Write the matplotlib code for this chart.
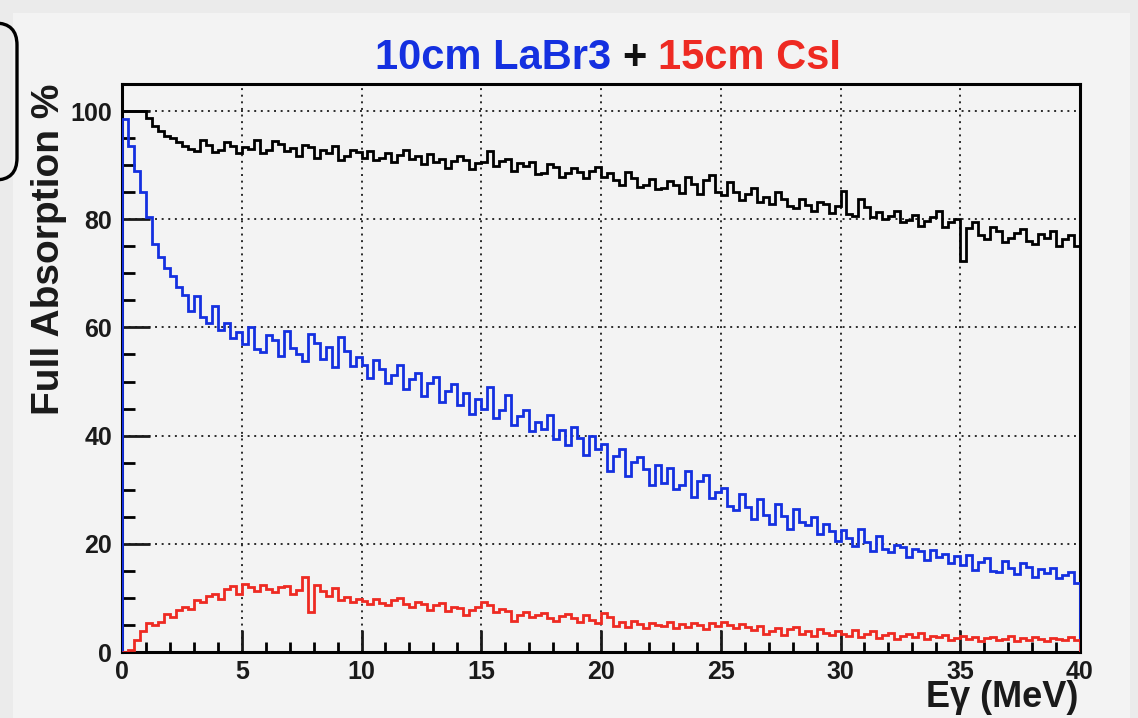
import numpy as np
import matplotlib
matplotlib.use('Agg')
import matplotlib.pyplot as plt
from matplotlib.ticker import MultipleLocator
from matplotlib.patches import Rectangle, FancyBboxPatch
from matplotlib.transforms import IdentityTransform

plt.rcParams['font.family'] = ['Liberation Sans', 'DejaVu Sans']
plt.rcParams['font.weight'] = 'bold'

# full absorption (%) per 0.25 MeV bin, 0 - 40 MeV
total = [
    100, 100, 100, 100, 98.8, 97.2, 96.4, 95.4, 95.0, 94.2, 93.6, 93.0, 92.6, 94.6, 93.8, 92.4, 92.8, 94.2, 93.6, 92.2,
    93.4, 93.0, 94.6, 92.2, 92.8, 94.4, 94.0, 92.6, 93.2, 91.6, 93.8, 93.4, 91.4, 92.8, 92.2, 93.6, 91.0, 91.6, 92.8, 92.4,
    91.4, 92.6, 91.0, 91.4, 92.2, 90.6, 91.8, 92.8, 91.2, 91.6, 90.2, 92.0, 90.6, 91.2, 89.4, 90.8, 91.6, 91.0, 89.2, 90.4,
    90.6, 92.6, 89.8, 90.8, 91.2, 89.0, 90.4, 89.8, 90.6, 88.4, 88.6, 90.2, 89.6, 87.8, 88.6, 89.4, 88.8, 87.6, 89.0, 89.6,
    87.8, 88.6, 87.2, 86.4, 88.8, 87.6, 86.0, 86.4, 87.4, 85.6, 85.8, 87.0, 86.4, 84.8, 87.8, 86.6, 84.6, 87.2, 88.2, 85.0,
    84.4, 86.8, 85.0, 83.6, 84.6, 85.8, 83.2, 84.2, 82.8, 85.0, 83.8, 82.4, 82.0, 83.8, 82.6, 81.6, 83.2, 82.8, 81.2, 82.4,
    85.2, 81.0, 80.6, 83.8, 82.2, 80.4, 81.4, 80.0, 80.6, 81.6, 79.4, 79.8, 80.8, 78.8, 79.6, 80.4, 81.6, 78.6, 79.4, 80.0,
    72.2, 78.4, 79.4, 77.0, 76.4, 78.6, 77.8, 75.8, 76.6, 77.4, 78.2, 76.0, 75.4, 77.2, 76.6, 77.8, 75.0, 76.4, 77.0, 75.0,
]
labr3 = [
    98.5, 93.5, 89.0, 85.0, 80.5, 75.5, 73.0, 71.0, 69.5, 67.5, 66.0, 63.0, 65.8, 62.0, 60.8, 64.0, 59.6, 60.8, 58.0, 59.2,
    57.0, 60.0, 56.0, 55.4, 58.6, 57.6, 54.8, 59.4, 56.2, 55.0, 53.8, 58.8, 57.2, 54.2, 56.4, 52.6, 58.2, 55.6, 52.8, 54.6,
    53.0, 50.6, 54.0, 52.4, 49.8, 51.2, 53.0, 48.6, 50.4, 51.6, 47.4, 49.8, 50.8, 46.2, 48.2, 49.6, 45.6, 47.8, 44.0, 46.8,
    45.0, 49.0, 43.2, 44.8, 47.6, 42.0, 43.6, 44.8, 40.8, 42.6, 41.2, 43.8, 39.4, 41.0, 38.2, 41.6, 39.6, 36.4, 40.0, 37.6,
    38.4, 33.4, 36.2, 37.6, 32.6, 35.2, 36.0, 33.8, 30.8, 34.6, 31.2, 34.0, 30.2, 30.8, 33.4, 28.6, 31.6, 32.8, 28.4, 29.6,
    30.4, 27.0, 26.2, 29.2, 26.8, 24.6, 28.2, 25.4, 23.6, 27.4, 25.2, 22.8, 26.4, 24.0, 23.4, 25.0, 21.8, 23.6, 22.4, 20.6,
    22.6, 21.0, 19.6, 22.8, 20.4, 18.6, 21.4, 19.0, 18.4, 19.8, 19.4, 17.6, 19.0, 18.6, 17.0, 18.8, 17.6, 18.2, 16.4, 17.8,
    16.0, 18.0, 15.2, 16.6, 17.4, 15.0, 14.8, 16.8, 15.6, 14.4, 16.4, 15.8, 13.8, 15.4, 14.6, 15.6, 13.6, 14.2, 14.8, 12.8,
]
csi = [
    0.0, 0.4, 2.2, 3.8, 5.4, 5.0, 5.6, 7.0, 6.4, 7.8, 8.4, 8.0, 9.6, 9.2, 10.4, 10.8, 9.8, 11.6, 12.2, 10.8,
    12.6, 12.0, 11.2, 12.4, 11.6, 11.0, 12.0, 12.2, 10.8, 11.4, 13.8, 7.4, 12.4, 11.2, 10.4, 11.8, 9.6, 10.2, 9.2, 9.8,
    9.4, 8.8, 9.8, 9.0, 8.6, 9.6, 10.0, 8.8, 8.4, 9.2, 8.8, 7.8, 8.6, 9.0, 7.6, 8.4, 8.2, 6.8, 7.8, 8.4,
    9.2, 8.6, 7.4, 8.0, 7.6, 5.8, 6.8, 7.4, 6.4, 6.8, 7.2, 6.2, 5.8, 6.6, 7.0, 6.2, 5.6, 6.8, 6.0, 5.4,
    7.2, 6.4, 4.8, 5.6, 4.6, 5.8, 5.2, 4.4, 5.4, 5.0, 4.8, 5.6, 4.4, 5.2, 4.6, 5.4, 5.0, 4.2, 5.4, 4.8,
    5.6, 5.0, 4.4, 5.2, 4.6, 4.0, 4.8, 3.4, 3.8, 4.4, 3.2, 4.2, 4.6, 3.4, 3.8, 3.0, 4.2, 3.6, 3.2, 3.8,
    3.4, 3.0, 4.0, 2.8, 3.4, 3.8, 2.6, 3.2, 3.6, 2.4, 3.0, 3.4, 2.8, 3.6, 2.4, 3.0, 2.8, 3.2, 2.2, 2.6,
    3.0, 2.4, 2.8, 2.0, 2.6, 2.8, 2.2, 2.4, 3.0, 2.0, 2.6, 2.2, 2.8, 2.4, 2.0, 2.6, 2.4, 2.2, 2.8, 2.2,
]
assert len(total) == len(labr3) == len(csi) == 160
e_min, e_max = 0, 40
edges = np.linspace(e_min, e_max, len(total) + 1)

W, H = 1138, 718
fig = plt.figure(figsize=(W / 100, H / 100), dpi=100)
fig.patch.set_facecolor('#ebebeb')
fig.add_artist(Rectangle((13, 0), 1117, H - 13, transform=IdentityTransform(),
                         facecolor='#f3f3f3', edgecolor='none', zorder=-5))
fig.add_artist(FancyBboxPatch((-40, 538), 57, 157, boxstyle='round,pad=0,rounding_size=22',
                              transform=IdentityTransform(), facecolor='none',
                              edgecolor='black', linewidth=2.4, clip_on=False))

ax = fig.add_axes([122 / W, 1 - 652 / H, 958 / W, 568 / H])
ax.set_facecolor('#f3f3f3')

ax.stairs(total, edges, color='black', linewidth=2.0, zorder=3)
ax.stairs(labr3, edges, color='#1430e0', linewidth=2.0, zorder=3)
ax.stairs(csi, edges, color='#ee2a22', linewidth=2.0, zorder=3)

ax.set_xlim(e_min, e_max)
ax.set_ylim(0, 105)
ax.set_xticks(range(0, 41, 5))
ax.set_yticks(range(0, 101, 20))
ax.xaxis.set_minor_locator(MultipleLocator(1))
ax.yaxis.set_minor_locator(MultipleLocator(5))
ax.tick_params(axis='x', which='major', direction='in', length=16, width=2, labelsize=18, pad=6,
               colors='#1a1a1a')
ax.tick_params(axis='x', which='minor', direction='in', length=7, width=2)
ax.tick_params(axis='y', which='major', direction='in', length=20, width=2, labelsize=18, pad=7,
               colors='#1a1a1a')
ax.tick_params(axis='y', which='minor', direction='in', length=9.5, width=2)
for s in ax.spines.values():
    s.set_linewidth(2.2)
ax.grid(True, which='major', color='#2a2a2a', linestyle=(0, (1, 2.4)), linewidth=1.4)
ax.set_axisbelow(True)

ax.set_ylabel('Full Absorption %', fontsize=28, fontweight='bold', loc='top', color='#1a1a1a')
ax.yaxis.set_label_coords(-0.057, 1.0)
ax.set_xlabel('Eγ (MeV)', fontsize=26, fontweight='bold', loc='right', color='#1a1a1a')
ax.xaxis.set_label_coords(0.998, -0.049)

# title in three colours
parts = [('10cm LaBr3', '#1430e0'), ('+', '#111111'), ('15cm CsI', '#ee2a22')]
texts = [fig.text(0, 1 - 58 / H, s, color=c, fontsize=30, fontweight='bold', va='center', ha='left')
         for s, c in parts]
fig.canvas.draw()
r = fig.canvas.get_renderer()
widths = [t.get_window_extent(r).width for t in texts]
gap = 11
x = 608 - (sum(widths) + gap * (len(widths) - 1)) / 2
for t, w in zip(texts, widths):
    t.set_x(x / W)
    x += w + gap

fig.savefig('out.png', dpi=100, facecolor=fig.get_facecolor())
